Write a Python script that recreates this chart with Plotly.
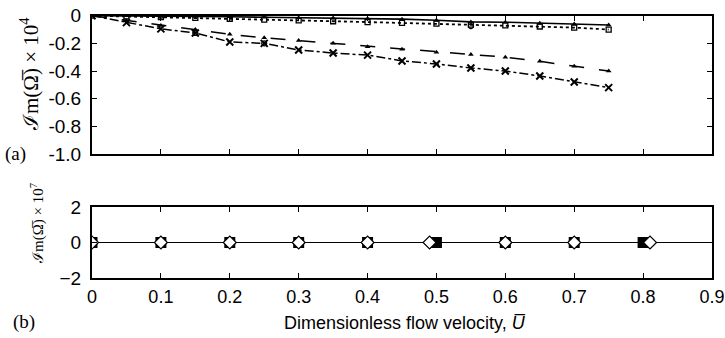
import plotly.graph_objects as go

# ---- data ----
u_top = [0, 0.05, 0.1, 0.15, 0.2, 0.25, 0.3, 0.35, 0.4, 0.45, 0.5, 0.55, 0.6, 0.65, 0.7, 0.75]
s_solid = [0, -0.001, -0.003, -0.005, -0.008, -0.011, -0.014, -0.017, -0.021, -0.025, -0.033, -0.045, -0.047, -0.055, -0.060, -0.067]
s_dot = [0, -0.005, -0.010, -0.016, -0.022, -0.028, -0.034, -0.040, -0.046, -0.052, -0.058, -0.064, -0.070, -0.078, -0.086, -0.100]
s_dash = [0, -0.035, -0.07, -0.10, -0.135, -0.16, -0.18, -0.20, -0.224, -0.243, -0.265, -0.28, -0.30, -0.33, -0.365, -0.40]
s_dashdot = [0, -0.05, -0.095, -0.125, -0.19, -0.20, -0.248, -0.27, -0.285, -0.327, -0.349, -0.378, -0.40, -0.436, -0.48, -0.52]
circ_u = [0.1, 0.15, 0.25, 0.55]
circ_v = [0, -0.125, -0.2, -0.075]

u_sq = [0, 0.1, 0.2, 0.3, 0.4, 0.5, 0.6, 0.7, 0.8]
v_sq = [0, 0, 0, 0, 0, 0, 0, 0, 0]
u_dm = [0, 0.1, 0.2, 0.3, 0.4, 0.49, 0.6, 0.7, 0.81]
v_dm = [0, 0, 0, 0, 0, 0, 0, 0, 0]
u_line = [0, 0.9]
v_line = [0, 0]

top_ticks = [0, -0.2, -0.4, -0.6, -0.8, -1.0]
top_ticktext = ["0", "-0.2", "-0.4", "-0.6", "-0.8", "-1.0"]
bot_ticks = [2, 0, -2]
x_ticks = [0, 0.1, 0.2, 0.3, 0.4, 0.5, 0.6, 0.7, 0.8, 0.9]
x_ticktext = ["0", "0.1", "0.2", "0.3", "0.4", "0.5", "0.6", "0.7", "0.8", "0.9"]

fig = go.Figure()
blk = "black"
fig.add_trace(go.Scatter(x=u_top, y=s_solid, mode="lines+markers", xaxis="x", yaxis="y",
                         line=dict(color=blk, width=1.6),
                         marker=dict(symbol="triangle-up", size=5, color=blk)))
fig.add_trace(go.Scatter(x=u_top, y=s_dot, mode="lines+markers", xaxis="x", yaxis="y",
                         line=dict(color=blk, width=1.8, dash="dot"),
                         marker=dict(symbol="square-open", size=5, color=blk, line=dict(width=1.3))))
fig.add_trace(go.Scatter(x=u_top, y=s_dash, mode="lines+markers", xaxis="x", yaxis="y",
                         line=dict(color=blk, width=1.5, dash="longdash"),
                         marker=dict(symbol="triangle-up", size=5, color=blk)))
fig.add_trace(go.Scatter(x=u_top, y=s_dashdot, mode="lines+markers", xaxis="x", yaxis="y",
                         line=dict(color=blk, width=1.5, dash="dashdot"),
                         marker=dict(symbol="x-thin-open", size=7, color=blk, line=dict(width=2, color=blk))))
fig.add_trace(go.Scatter(x=circ_u, y=circ_v, mode="markers", xaxis="x", yaxis="y",
                         marker=dict(symbol="circle-open", size=5, color=blk, line=dict(width=1.2))))

fig.add_trace(go.Scatter(x=u_line, y=v_line, mode="lines", xaxis="x2", yaxis="y2",
                         line=dict(color=blk, width=1)))
fig.add_trace(go.Scatter(x=u_sq, y=v_sq, mode="markers", xaxis="x2", yaxis="y2",
                         marker=dict(symbol="square", size=11, color=blk)))
fig.add_trace(go.Scatter(x=u_dm, y=v_dm, mode="markers", xaxis="x2", yaxis="y2",
                         marker=dict(symbol="diamond", size=10, color="white", line=dict(width=1.2, color=blk))))

H = 338.0
W = 725.0
font = dict(family="Liberation Sans, Arial, sans-serif", size=19, color=blk)
xfont = dict(family="Liberation Sans, Arial, sans-serif", size=18, color=blk)
common = dict(showline=True, linecolor=blk, linewidth=2, mirror="ticks", ticks="inside",
              ticklen=5, tickwidth=1, tickcolor=blk, showgrid=False, zeroline=False,
              automargin=False)
xdom = [92 / W, 712 / W]

fig.update_layout(
    width=725, height=338, margin=dict(l=0, r=0, t=0, b=0, autoexpand=False),
    paper_bgcolor="white", plot_bgcolor="white", showlegend=False, font=font,
    xaxis=dict(domain=xdom, range=[0, 0.9], tickvals=x_ticks, showticklabels=False,
               anchor="y", **common),
    yaxis=dict(domain=[(H - 154) / H, (H - 15.7) / H], range=[-1.0, 0], tickvals=top_ticks,
               ticktext=top_ticktext, anchor="x", tickfont=font, ticklabelstandoff=5, **common),
    xaxis2=dict(domain=xdom, range=[0, 0.9], tickvals=x_ticks, ticktext=x_ticktext,
                anchor="y2", tickfont=xfont, ticklabelstandoff=1, **common),
    yaxis2=dict(domain=[(H - 278) / H, (H - 207) / H], range=[-2, 2], tickvals=bot_ticks,
                anchor="x2", tickfont=font, ticklabelstandoff=5, **common),
)

fig.add_annotation(text="ℐm(Ω\u0305) × 10<sup>4</sup>", xref="paper", yref="paper",
                   x=29 / W, y=(H - 74) / H, textangle=-90, showarrow=False,
                   font=dict(family="Liberation Serif, serif", size=21, color=blk),
                   xanchor="center", yanchor="middle")
fig.add_annotation(text="ℐm(Ω\u0305) × 10<sup>7</sup>", xref="paper", yref="paper",
                   x=37 / W, y=(H - 224) / H, textangle=-90, showarrow=False,
                   font=dict(family="Liberation Serif, serif", size=15, color=blk),
                   xanchor="center", yanchor="middle")
fig.add_annotation(text="(a)", xref="paper", yref="paper", x=16 / W, y=(H - 154) / H,
                   showarrow=False, font=dict(family="Liberation Serif, serif", size=19, color=blk),
                   xanchor="center", yanchor="middle")
fig.add_annotation(text="(b)", xref="paper", yref="paper", x=24 / W, y=(H - 322) / H,
                   showarrow=False, font=dict(family="Liberation Serif, serif", size=19, color=blk),
                   xanchor="center", yanchor="middle")
fig.add_annotation(text="Dimensionless flow velocity, <i>U\u0305</i>", xref="paper", yref="paper",
                   x=405 / W, y=(H - 323) / H, showarrow=False,
                   font=dict(family="Liberation Sans, Arial, sans-serif", size=18, color=blk),
                   xanchor="center", yanchor="middle")

fig.write_html("out.html")
